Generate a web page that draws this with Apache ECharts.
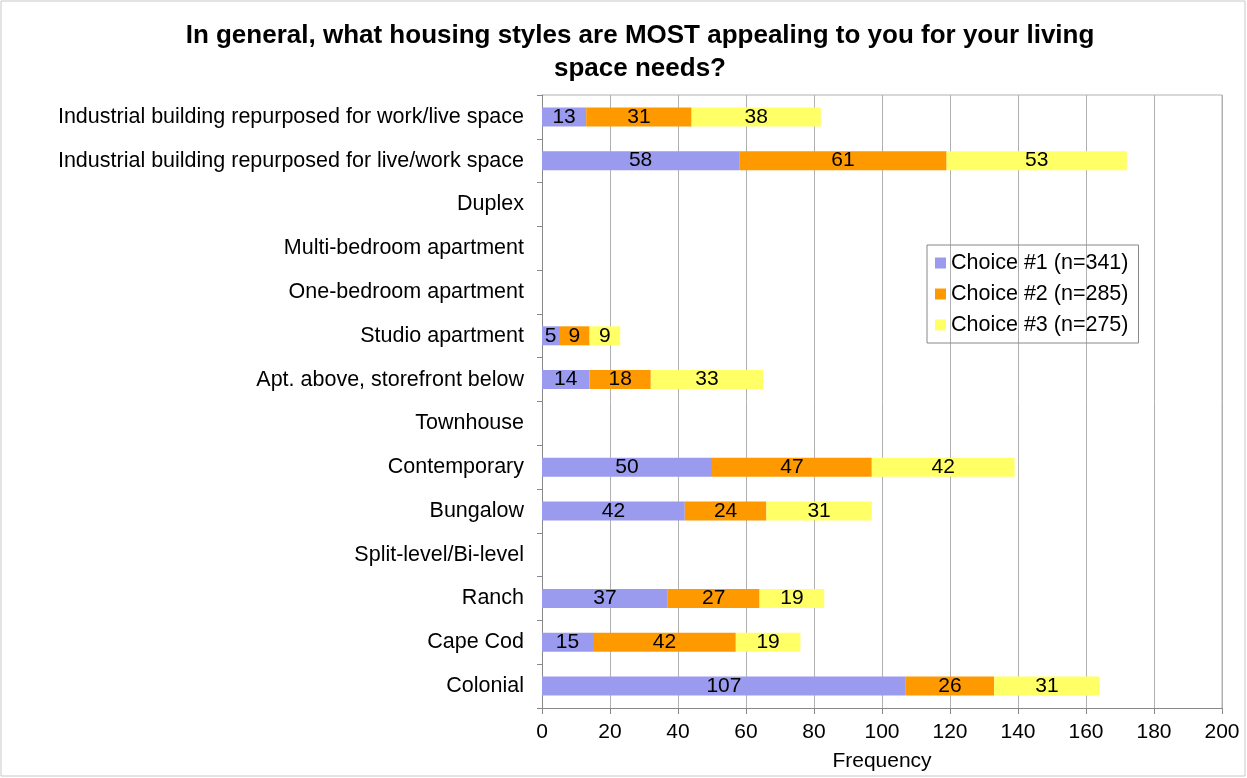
<!DOCTYPE html>
<html><head><meta charset="utf-8">
<script src="https://cdn.jsdelivr.net/npm/echarts@6/dist/echarts.min.js"></script>
<style>html,body{margin:0;padding:0;background:#fff}#c{width:1247px;height:778px}</style>
</head><body><div id="c"></div>
<script>
const categories = ["Colonial","Cape Cod","Ranch","Split-level/Bi-level","Bungalow","Contemporary","Townhouse","Apt. above, storefront below","Studio apartment","One-bedroom apartment","Multi-bedroom apartment","Duplex","Industrial building repurposed for live/work space","Industrial building repurposed for work/live space"];
const choice1 = [107,15,37,null,42,50,null,14,5,null,null,null,58,13];
const choice2 = [26,42,27,null,24,47,null,18,9,null,null,null,61,31];
const choice3 = [31,19,19,null,31,42,null,33,9,null,null,null,53,38];
const seriesNames = ["Choice #1 (n=341)","Choice #2 (n=285)","Choice #3 (n=275)"];
const colors = ["#9a9aee","#ff9900","#ffff66"];
const xTicks = [0,20,40,60,80,100,120,140,160,180,200];

const font = "'Liberation Sans', Arial, sans-serif";
const chart = echarts.init(document.getElementById('c'));
const mk = (name, data, color) => ({
  name, type:'bar', stack:'s', data, barWidth:19,
  itemStyle:{color},
  label:{show:true, position:'inside', color:'#000', fontSize:21, fontFamily:font,
    formatter:p => p.value == null ? '' : p.value}
});
chart.setOption({
  animation:false,
  textStyle:{fontFamily:font},
  title:{text:"In general, what housing styles are MOST appealing to you for your living\nspace needs?",
    left:635, textAlign:'center', top:14,
    textStyle:{fontSize:26, fontWeight:'bold', color:'#000', lineHeight:33, fontFamily:font}},
  grid:{left:542, right:25, top:95, bottom:70, containLabel:false},
  legend:{orient:'vertical', left:927, top:245, width:213,
    data:seriesNames, itemWidth:11, itemHeight:11, itemGap:9, itemStyle:{borderWidth:0},
    icon:'rect', borderColor:'#888', borderWidth:1, padding:[7,10,7,8],
    textStyle:{fontSize:21.5, color:'#000', fontFamily:font}},
  xAxis:{type:'value', min:0, max:200, interval:20,
    name:'Frequency', nameLocation:'middle', nameGap:43,
    nameTextStyle:{fontSize:21, color:'#000', fontFamily:font},
    axisLine:{show:true, lineStyle:{color:'#888'}},
    axisTick:{show:true, length:6, lineStyle:{color:'#888'}},
    axisLabel:{fontSize:21, color:'#000', margin:14, fontFamily:font,
      formatter:v => xTicks.includes(v) ? String(v) : ''},
    splitLine:{show:true, lineStyle:{color:'#b0b0b0'}}},
  yAxis:{type:'category', data:categories,
    axisLine:{show:true, lineStyle:{color:'#888'}},
    axisTick:{show:true, length:5, lineStyle:{color:'#888'}},
    axisLabel:{fontSize:21.5, color:'#000', margin:18, fontFamily:font},
    splitLine:{show:false}},
  series:[mk(seriesNames[0], choice1, colors[0]), mk(seriesNames[1], choice2, colors[1]), mk(seriesNames[2], choice3, colors[2])],
  graphic:[{type:'rect', shape:{x:1,y:1,width:1244,height:775}, style:{fill:'none', stroke:'#c8c8c8', lineWidth:1}, silent:true},
    {type:'polyline', shape:{points:[[542,95],[1222,95],[1222,708]]}, style:{fill:'none', stroke:'#b0b0b0', lineWidth:1}, silent:true}]
});
</script></body></html>
